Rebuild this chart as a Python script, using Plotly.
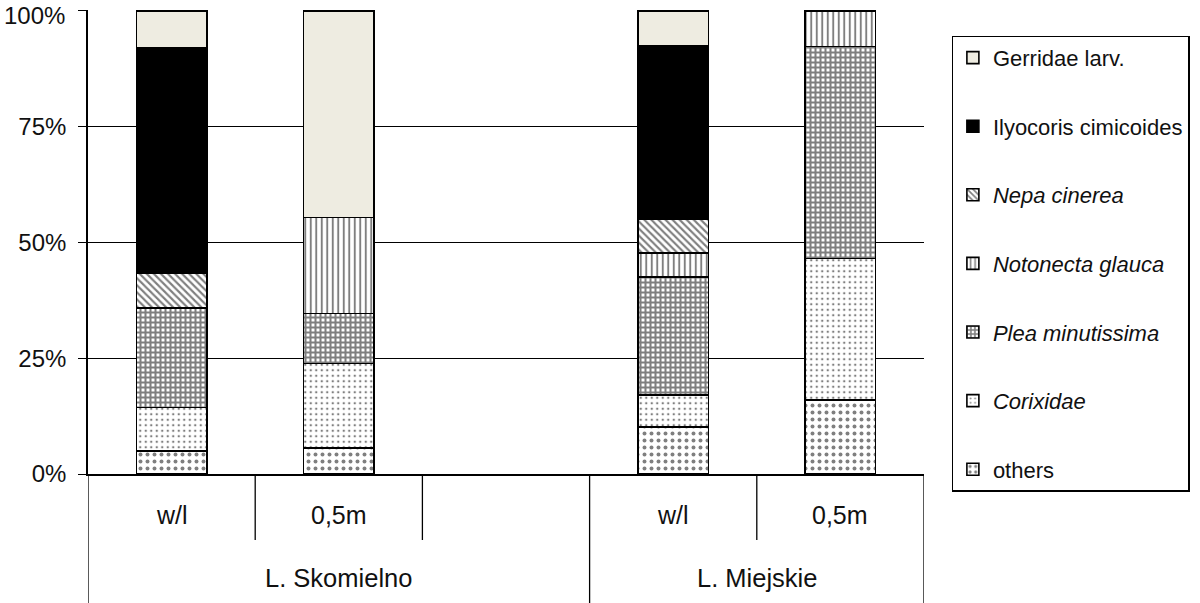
import plotly.graph_objects as go

# ---- data ----
lakes = ["L. Skomielno", "L. Skomielno", "L. Skomielno", "L. Miejskie", "L. Miejskie"]
samples = ["w/l", "0,5m", "", "w/l", "0,5m"]

others = [5.0, 5.6, None, 10.2, 16.0]
corixidae = [9.4, 18.3, None, 6.9, 30.5]
plea = [21.4, 10.8, None, 25.5, 45.8]
notonecta = [0.0, 20.7, None, 5.1, 7.7]
nepa = [7.6, 0.0, None, 7.4, 0.0]
ilyocoris = [48.6, 0.0, None, 37.4, 0.0]
gerridae = [8.0, 44.6, None, 7.5, 0.0]

y_ticks = [0, 25, 50, 75, 100]
y_tick_labels = ["0%", "25%", "50%", "75%", "100%"]

slots = list(range(len(samples)))

series = [
    ("others", others, dict(color="white", pattern=dict(shape=".", fgcolor="black", bgcolor="white", size=7, solidity=0.25))),
    ("<i>Corixidae</i>", corixidae, dict(color="white", pattern=dict(shape=".", fgcolor="black", bgcolor="white", size=5.5, solidity=0.15))),
    ("<i>Plea minutissima</i>", plea, dict(color="white", pattern=dict(shape="+", fgcolor="black", bgcolor="white", size=5, solidity=0.65))),
    ("<i>Notonecta glauca</i>", notonecta, dict(color="white", pattern=dict(shape="|", fgcolor="black", bgcolor="white", size=5.5, solidity=0.35))),
    ("<i>Nepa cinerea</i>", nepa, dict(color="white", pattern=dict(shape="\\", fgcolor="black", bgcolor="white", size=5, solidity=0.42))),
    ("Ilyocoris cimicoides", ilyocoris, dict(color="black")),
    ("Gerridae larv.", gerridae, dict(color="#EEECE1")),
]

fig = go.Figure()
n = len(series)
for i, (name, vals, mk) in enumerate(series):
    mk = dict(mk)
    mk["line"] = dict(color="black", width=1.6)
    fig.add_trace(go.Bar(
        x=slots, y=vals, name=name, marker=mk, width=0.42,
        legendgroup=f"g{i}", legendrank=100 * (n - i),
    ))

FONT = "Liberation Sans, Arial, sans-serif"
TXT = "#111"

# top tick label is placed as an annotation (nudged down so it stays inside the page)
axis_ticktext = y_tick_labels[:-1] + [""]

fig.update_layout(
    barmode="stack",
    width=1200, height=603,
    margin=dict(l=88, r=272, t=10, b=129),
    paper_bgcolor="white", plot_bgcolor="white",
    font=dict(family=FONT, size=22, color=TXT),
    showlegend=True,
    legend=dict(
        x=1.033, xanchor="left", y=0.945, yanchor="top",
        bordercolor="black", borderwidth=1.3,
        traceorder="grouped", tracegroupgap=37, maxheight=580,
        font=dict(family=FONT, size=22, color=TXT),
    ),
    xaxis=dict(
        range=[-0.5, len(samples) - 0.5], showticklabels=False, ticks="",
        showgrid=False, zeroline=False, showline=True, linecolor="black", linewidth=1.6,
        automargin=False,
    ),
    yaxis=dict(
        range=[0, 100.2], tickmode="array", tickvals=y_ticks, ticktext=axis_ticktext,
        ticks="outside", ticklen=8, tickcolor="black", tickwidth=1.4,
        showline=True, linecolor="black", linewidth=1.6,
        showgrid=True, gridcolor="black", gridwidth=1.3, zeroline=False,
        tickfont=dict(family=FONT, size=24, color=TXT), automargin=False,
        ticklabelstandoff=7,
    ),
)

fig.add_annotation(x=0, xref="paper", xanchor="right", xshift=-21,
                   y=y_ticks[-1], yref="y", yanchor="middle", yshift=-5,
                   text=y_tick_labels[-1], showarrow=False,
                   font=dict(family=FONT, size=24, color=TXT))

# category frame lines below axis
PH = 464.0
short_y = -(66 / PH)
long_y = -(129 / PH)
for k in range(len(samples) + 1):
    xb = k - 0.5
    is_long = k == 0 or k == len(samples) or (0 < k < len(samples) and lakes[k] != lakes[k - 1])
    fig.add_shape(type="line", xref="x", yref="paper", x0=xb, x1=xb, y0=0,
                  y1=long_y if is_long else short_y, line=dict(color="black", width=1.3))

for s, lab in zip(slots, samples):
    if lab:
        fig.add_annotation(x=s, y=-(41 / PH), xref="x", yref="paper", text=lab,
                           showarrow=False, font=dict(family=FONT, size=25, color=TXT),
                           yanchor="middle")

# group labels
groups = []
for s, lk in zip(slots, lakes):
    if not groups or groups[-1][0] != lk:
        groups.append([lk, s, s])
    else:
        groups[-1][2] = s
for lk, a, b in groups:
    center = ((a - 0.5) + (b + 0.5)) / 2
    fig.add_annotation(x=center, y=-(104 / PH), xref="x", yref="paper", text=lk,
                       showarrow=False, font=dict(family=FONT, size=25.5, color=TXT),
                       yanchor="middle")

fig.write_html("out.html", config={"displayModeBar": False},
               post_script="document.body.style.margin='0';")
